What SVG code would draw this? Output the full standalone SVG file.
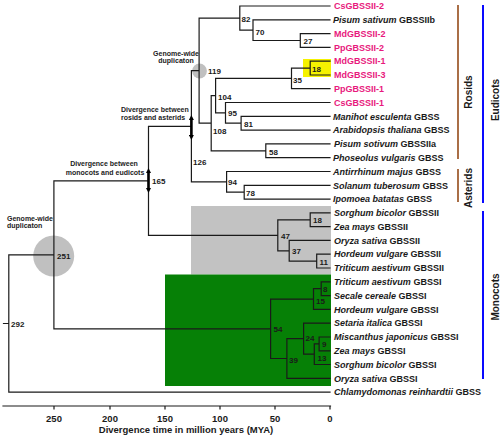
<svg xmlns="http://www.w3.org/2000/svg" width="500" height="436" viewBox="0 0 500 436">
<style>
.ln{stroke:#1a1a1a;stroke-width:1.2;fill:none;stroke-linecap:square}
.lf{font-family:"Liberation Sans",Arial,sans-serif;font-size:9px;font-weight:bold;fill:#1a1a1a}
.pk{fill:#e8197d}
.it{font-style:italic}
.nl{font-family:"Liberation Sans",Arial,sans-serif;font-size:8px;font-weight:bold;fill:#1a1a1a}
.an{font-family:"Liberation Sans",Arial,sans-serif;font-size:7px;font-weight:bold;fill:#222}
.ax{font-family:"Liberation Sans",Arial,sans-serif;font-size:9.5px;font-weight:bold;fill:#1a1a1a}
.grp{font-family:"Liberation Sans",Arial,sans-serif;font-size:10px;font-weight:bold;fill:#1a1a1a}
.arr{stroke:#000;stroke-width:2.6;fill:none;marker-start:url(#ah);marker-end:url(#ah)}
</style>
<defs>
<marker id="ah" viewBox="0 0 5 5" refX="0" refY="2.5" markerWidth="5" markerHeight="5" markerUnits="userSpaceOnUse" orient="auto-start-reverse"><path d="M0,0L5,2.5L0,5z" fill="#000"/></marker>
</defs>
<rect width="500" height="436" fill="#fff"/>
<g id="backgrounds">
<rect x="191" y="206" width="140" height="68.5" fill="#c2c2c2"/>
<rect x="165" y="274.5" width="166" height="111.5" fill="#068006"/>
<rect x="303" y="59" width="28" height="18" fill="#f5f200"/>
<circle cx="53.7" cy="256" r="20.5" fill="#c0c0c0"/>
<circle cx="199.5" cy="71" r="7.4" fill="#c0c0c0"/>
</g>
<g id="connectors">
<path class="ln" d="M300.3,33.6V47.4M300.3,33.6H330M300.3,47.4H330
M253,19.8V40.5M253,19.8H330M253,40.5H300.3
M239.8,6V30.2M239.8,6H330M239.8,30.2H253
M310.2,61.2V75M310.2,61.2H330M310.2,75H330
M291.5,68.1V88.7M291.5,68.1H310.2M291.5,88.7H330
M241.1,116.3V130.1M241.1,116.3H330M241.1,130.1H330
M225.5,102.5V123.2M225.5,102.5H330M225.5,123.2H241.1
M215.6,78.4V112.9M215.6,78.4H291.5M215.6,112.9H225.5
M265.8,143.9V157.7M265.8,143.9H330M265.8,157.7H330
M211.2,95.6V150.8M211.2,95.6H215.6M211.2,150.8H265.8
M199.1,18.1V123.2M199.1,18.1H239.8M199.1,123.2H211.2
M244.2,185.3V199.1M244.2,185.3H330M244.2,199.1H330
M226.6,171.5V192.2M226.6,171.5H330M226.6,192.2H244.2
M191.4,70.7V181.9M191.4,70.7H199.1M191.4,181.9H226.6
M310.2,212.9V226.6M310.2,212.9H330M310.2,226.6H330
M316.7,254.2V268M316.7,254.2H330M316.7,268H330
M289.2,240.4V261.1M289.2,240.4H330M289.2,261.1H316.7
M277.8,219.8V250.8M277.8,219.8H310.2M277.8,250.8H289.2
M148.5,126.3V235.3M148.5,126.3H191.4M148.5,235.3H277.8
M321.2,281.8V295.6M321.2,281.8H330M321.2,295.6H330
M313.5,288.7V309.4M313.5,288.7H321.2M313.5,309.4H330
M319.1,337V350.8M319.1,337H330M319.1,350.8H330
M314.3,343.9V364.5M314.3,343.9H319.1M314.3,364.5H330
M303.6,323.2V354.2M303.6,323.2H330M303.6,354.2H314.3
M286.9,338.7V378.3M286.9,338.7H303.6M286.9,378.3H330
M270.6,299.1V358.5M270.6,299.1H313.5M270.6,358.5H286.9
M53.9,180.8V328.8M53.9,180.8H148.5M53.9,328.8H270.6
M8.8,254.8V392.1M8.8,254.8H53.9M8.8,392.1H330
M3.5,323.5H8.8"/>
</g>
<g id="leaves">
<g id="leaf-CsGBSSII-2"><text class="lf pk" x="334" y="9.2">CsGBSSII-2</text></g>
<g id="leaf-Ps-GBSSIIb"><text class="lf" x="333" y="23"><tspan class="it">Pisum sativum</tspan> GBSSIIb</text></g>
<g id="leaf-MdGBSSII-2"><text class="lf pk" x="334" y="36.8">MdGBSSII-2</text></g>
<g id="leaf-PpGBSSII-2"><text class="lf pk" x="334" y="50.6">PpGBSSII-2</text></g>
<g id="leaf-MdGBSSII-1"><text class="lf pk" x="334" y="64.4">MdGBSSII-1</text></g>
<g id="leaf-MdGBSSII-3"><text class="lf pk" x="334" y="78.2">MdGBSSII-3</text></g>
<g id="leaf-PpGBSSII-1"><text class="lf pk" x="334" y="91.9">PpGBSSII-1</text></g>
<g id="leaf-CsGBSSII-1"><text class="lf pk" x="334" y="105.7">CsGBSSII-1</text></g>
<g id="leaf-Me-GBSS"><text class="lf" x="333" y="119.5"><tspan class="it">Manihot esculenta</tspan> GBSS</text></g>
<g id="leaf-At-GBSS"><text class="lf" x="333" y="133.3"><tspan class="it">Arabidopsis thaliana</tspan> GBSS</text></g>
<g id="leaf-Ps-GBSSIIa"><text class="lf" x="334" y="147.1"><tspan class="it">Pisum sotivum</tspan> GBSSIIa</text></g>
<g id="leaf-Pv-GBSS"><text class="lf" x="333" y="160.9"><tspan class="it">Phoseolus vulgaris</tspan> GBSS</text></g>
<g id="leaf-Am-GBSS"><text class="lf" x="333" y="174.7"><tspan class="it">Antirrhinum majus</tspan>  GBSS</text></g>
<g id="leaf-St-GBSS"><text class="lf" x="333" y="188.5"><tspan class="it">Solanum tuberosum</tspan> GBSS</text></g>
<g id="leaf-Ib-GBSS"><text class="lf" x="333" y="202.3"><tspan class="it">Ipomoea batatas</tspan> GBSS</text></g>
<g id="leaf-Sb-GBSSII"><text class="lf" x="334" y="216.1"><tspan class="it">Sorghum bicolor</tspan> GBSSII</text></g>
<g id="leaf-Zm-GBSSII"><text class="lf" x="334" y="229.8"><tspan class="it">Zea mays</tspan> GBSSII</text></g>
<g id="leaf-Os-GBSSII"><text class="lf" x="334" y="243.6"><tspan class="it">Oryza sativa</tspan> GBSSII</text></g>
<g id="leaf-Hv-GBSSII"><text class="lf" x="334" y="257.4"><tspan class="it">Hordeum vulgare</tspan> GBSSII</text></g>
<g id="leaf-Ta-GBSSII"><text class="lf" x="334" y="271.2"><tspan class="it">Triticum aestivum</tspan> GBSSII</text></g>
<g id="leaf-Ta-GBSSI"><text class="lf" x="334" y="285"><tspan class="it">Triticum aestivum</tspan> GBSSI</text></g>
<g id="leaf-Sc-GBSSI"><text class="lf" x="334" y="298.8"><tspan class="it">Secale cereale</tspan> GBSSI</text></g>
<g id="leaf-Hv-GBSSI"><text class="lf" x="334" y="312.6"><tspan class="it">Hordeum vulgare</tspan> GBSSI</text></g>
<g id="leaf-Si-GBSSI"><text class="lf" x="334" y="326.4"><tspan class="it">Setaria italica</tspan> GBSSI</text></g>
<g id="leaf-Mj-GBSSI"><text class="lf" x="334" y="340.2"><tspan class="it">Miscanthus japonicus</tspan> GBSSI</text></g>
<g id="leaf-Zm-GBSSI"><text class="lf" x="334" y="354"><tspan class="it">Zea mays</tspan> GBSSI</text></g>
<g id="leaf-Sb-GBSSI"><text class="lf" x="334" y="367.7"><tspan class="it">Sorghum bicolor</tspan> GBSSI</text></g>
<g id="leaf-Os-GBSSI"><text class="lf" x="334" y="381.5"><tspan class="it">Oryza sativa</tspan> GBSSI</text></g>
<g id="leaf-Cr-GBSS"><text class="lf" x="334" y="395.3"><tspan class="it">Chlamydomonas reinhardtii</tspan> GBSS</text></g>
</g>
<g id="nodes">
<g id="node-82"><text class="nl" x="241.5" y="21.5">82</text></g>
<g id="node-70"><text class="nl" x="255.5" y="35">70</text></g>
<g id="node-27"><text class="nl" x="303.5" y="43.5">27</text></g>
<g id="node-18a"><text class="nl" x="312" y="72">18</text></g>
<g id="node-35"><text class="nl" x="293" y="83">35</text></g>
<g id="node-119"><text class="nl" x="208" y="74">119</text></g>
<g id="node-104"><text class="nl" x="218" y="100">104</text></g>
<g id="node-95"><text class="nl" x="228" y="116">95</text></g>
<g id="node-81"><text class="nl" x="244" y="127">81</text></g>
<g id="node-108"><text class="nl" x="213" y="134">108</text></g>
<g id="node-58"><text class="nl" x="269" y="155">58</text></g>
<g id="node-126"><text class="nl" x="193" y="165">126</text></g>
<g id="node-94"><text class="nl" x="228" y="184.5">94</text></g>
<g id="node-78"><text class="nl" x="246" y="196">78</text></g>
<g id="node-165"><text class="nl" x="152" y="184">165</text></g>
<g id="node-18b"><text class="nl" x="313" y="222.5">18</text></g>
<g id="node-47"><text class="nl" x="281" y="239">47</text></g>
<g id="node-37"><text class="nl" x="292" y="254">37</text></g>
<g id="node-11"><text class="nl" x="319.5" y="264.5">11</text></g>
<g id="node-8"><text class="nl" x="323" y="292">8</text></g>
<g id="node-15"><text class="nl" x="316" y="304">15</text></g>
<g id="node-54"><text class="nl" x="273.5" y="332">54</text></g>
<g id="node-24"><text class="nl" x="305.5" y="341">24</text></g>
<g id="node-9"><text class="nl" x="322" y="347">9</text></g>
<g id="node-13"><text class="nl" x="317.5" y="361">13</text></g>
<g id="node-39"><text class="nl" x="289" y="363">39</text></g>
<g id="node-251"><text class="nl" x="57" y="258.5">251</text></g>
<g id="node-292"><text class="nl" x="11" y="327" font-weight="normal" font-size="7.5">292</text></g>
</g>
<g id="annotations">
<line class="arr" x1="191.4" y1="120" x2="191.4" y2="135"/>
<line class="arr" x1="148.5" y1="173" x2="148.5" y2="188"/>
<text class="an" x="7" y="220.5">Genome-wide</text>
<text class="an" x="7" y="228.3">duplicaton</text>
<text class="an" x="176" y="56" text-anchor="middle">Genome-wide</text>
<text class="an" x="176" y="62.5" text-anchor="middle">duplicaton</text>
<text class="an" x="121" y="112">Divergence between</text>
<text class="an" x="121" y="120">rosids and asterids</text>
<text class="an" x="104" y="166" text-anchor="middle">Divergence between</text>
<text class="an" x="105" y="174.5" text-anchor="middle">monocots and eudicots</text>
</g>
<g id="groups">
<line x1="458" y1="5" x2="458" y2="159" stroke="#9b5526" stroke-width="1.7"/>
<line x1="458" y1="169" x2="458" y2="202" stroke="#9b5526" stroke-width="1.7"/>
<line x1="483" y1="5" x2="483" y2="203" stroke="#0a0aff" stroke-width="2"/>
<line x1="483" y1="211" x2="483" y2="379" stroke="#0a0aff" stroke-width="2"/>
<text class="grp" transform="translate(472,92) rotate(-90)" text-anchor="middle">Rosids</text>
<text class="grp" transform="translate(472,188) rotate(-90)" text-anchor="middle">Asterids</text>
<text class="grp" transform="translate(499,100) rotate(-90)" text-anchor="middle">Eudicots</text>
<text class="grp" transform="translate(499,297) rotate(-90)" text-anchor="middle">Monocots</text>
</g>
<g id="axis">
<path class="ln" d="M3,406H330.5M54,406V409M110,406V409M165,406V409M220,406V409M275,406V409M330,406V409"/>
<text class="ax" x="54" y="421.5" text-anchor="middle">250</text>
<text class="ax" x="110" y="421.5" text-anchor="middle">200</text>
<text class="ax" x="165" y="421.5" text-anchor="middle">150</text>
<text class="ax" x="220" y="421.5" text-anchor="middle">100</text>
<text class="ax" x="275" y="421.5" text-anchor="middle">50</text>
<text class="ax" x="330" y="421.5" text-anchor="middle">0</text>
<text class="ax" x="186" y="433" text-anchor="middle" font-size="9">Divergence time in million years (MYA)</text>
</g>
</svg>
